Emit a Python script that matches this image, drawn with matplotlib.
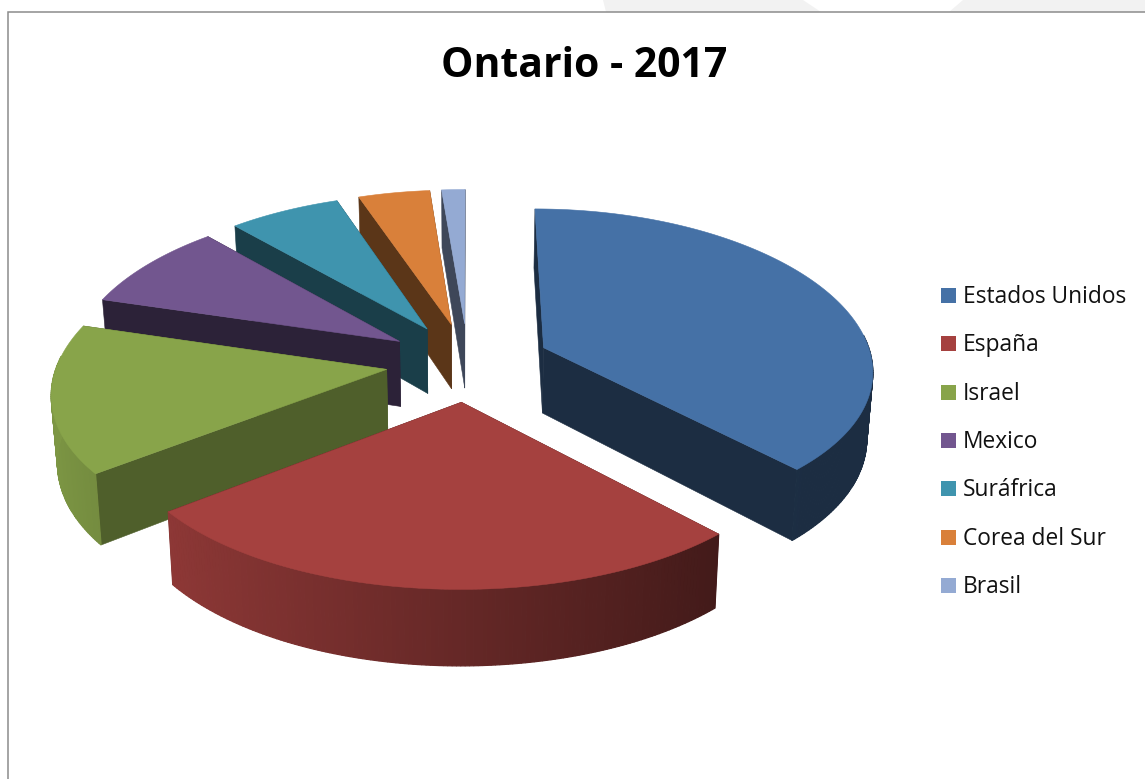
import numpy as np
import matplotlib
matplotlib.use("Agg")
import matplotlib.pyplot as plt
from matplotlib.patches import Polygon, Rectangle

# Export share per destination, percent
countries = ["Estados Unidos", "España", "Israel", "Mexico", "Suráfrica", "Corea del Sur", "Brasil"]
shares = [38.0, 26.48, 15.07, 8.78, 6.3, 4.05, 1.32]
title = "Ontario - 2017"

top_colors = ["#4571A6", "#A5413F", "#88A44A", "#72568F", "#3F94AE", "#D9803A", "#94AAD3"]
wall_shade = [0.40, 0.42, 0.58, 0.39, 0.42, 0.42, 0.42]

# Projection of the tilted disc onto the canvas, in pixels
CX, CY = 468.0, 362.0
RX, RY = 329.0, 157.0
PERSP_X = 0.13
PERSP_Y = 0.11
EXPLODE = 0.25
DEPTH = 66.0
BASE_SHRINK = 0.985


def project(wx, wy, base=False):
    sx = 1.0 / (1.0 + PERSP_X * wy)
    sy = 1.0 / (1.0 + PERSP_Y * wy)
    x = CX + RX * wx * sx
    y = CY - RY * wy * sy
    if base:
        x = CX + (x - CX) * BASE_SHRINK
        y = y + DEPTH * sy
    return x, y


def shade(color, f):
    r, g, b = matplotlib.colors.to_rgb(color)
    return (r * f, g * f, b * f)


def poly(ax, pts, color, z, lw=0.4):
    ax.add_patch(Polygon(pts, closed=True, facecolor=color, edgecolor=color, lw=lw, zorder=z))


fig = plt.figure(figsize=(11.45, 7.79), dpi=100)
ax = fig.add_axes([0, 0, 1, 1])
ax.set_xlim(0, 1145)
ax.set_ylim(779, 0)
ax.axis("off")

# Pale shapes above the frame
ax.add_patch(Polygon([(603, 0), (606, 12), (821, 12), (803, 0)], facecolor="#F2F2F2", lw=0, zorder=0))
ax.add_patch(Polygon([(963, 0), (949, 12), (1145, 12), (1145, 0)], facecolor="#F2F2F2", lw=0, zorder=0))

# Chart frame
ax.plot([8, 8, 1145], [779, 12, 12], color="#8C8C8C", lw=1.1, zorder=1, solid_joinstyle="miter")

total = sum(shares)
edges = np.concatenate([[0.0], np.cumsum(shares)]) / total * 2 * np.pi

# Slices painted from the back of the disc to the front
paint_order = [6, 5, 4, 3, 2, 0, 1]
for rank, i in enumerate(paint_order):
    t0, t1 = edges[i], edges[i + 1]
    mid = 0.5 * (t0 + t1)
    ox, oy = EXPLODE * np.sin(mid), EXPLODE * np.cos(mid)
    th = np.linspace(t0, t1, max(int((t1 - t0) * 90), 6))
    wx = ox + np.sin(th)
    wy = oy + np.cos(th)
    rim_top = np.column_stack(project(wx, wy))
    rim_bot = np.column_stack(project(wx, wy, base=True))
    apex_top = project(ox, oy)
    apex_bot = project(ox, oy, base=True)
    z = 10 + rank * 5
    col = top_colors[i]
    wall_col = shade(col, wall_shade[i])
    # radial walls, the rearmost first
    walls = [(rim_top[0], rim_bot[0]), (rim_top[-1], rim_bot[-1])]
    walls.sort(key=lambda w: w[0][1])
    for k, (a, b) in enumerate(walls):
        poly(ax, [apex_top, a, b, apex_bot], wall_col, z + k * 0.1)
    # outer rim with light falling from the left; the far side stays hidden
    for k in range(len(th) - 1):
        tm = 0.5 * (th[k] + th[k + 1])
        if np.cos(tm) > 0.08:
            continue
        f = np.interp(np.sin(tm), [-1, 0.7], [0.92, 0.40])
        poly(ax, [rim_top[k], rim_top[k + 1], rim_bot[k + 1], rim_bot[k]], shade(col, f), z + 1, lw=0.9)
    # top face
    poly(ax, np.vstack([[apex_top], rim_top]), col, z + 2)

ax.text(584, 66, title, ha="center", va="center", fontsize=29.4, fontweight="bold",
        family="Open Sans", color="black", zorder=100)

# Legend
for i, name in enumerate(countries):
    yc = 295.5 + i * 48.33
    ax.add_patch(Rectangle((941, yc - 7.5), 15, 15, facecolor=top_colors[i], lw=0, zorder=100))
    ax.text(963, yc + 7.5, name, ha="left", va="baseline", fontsize=16.4, family="Open Sans",
            color="#111111", zorder=100)

fig.savefig("out.png", dpi=100)
